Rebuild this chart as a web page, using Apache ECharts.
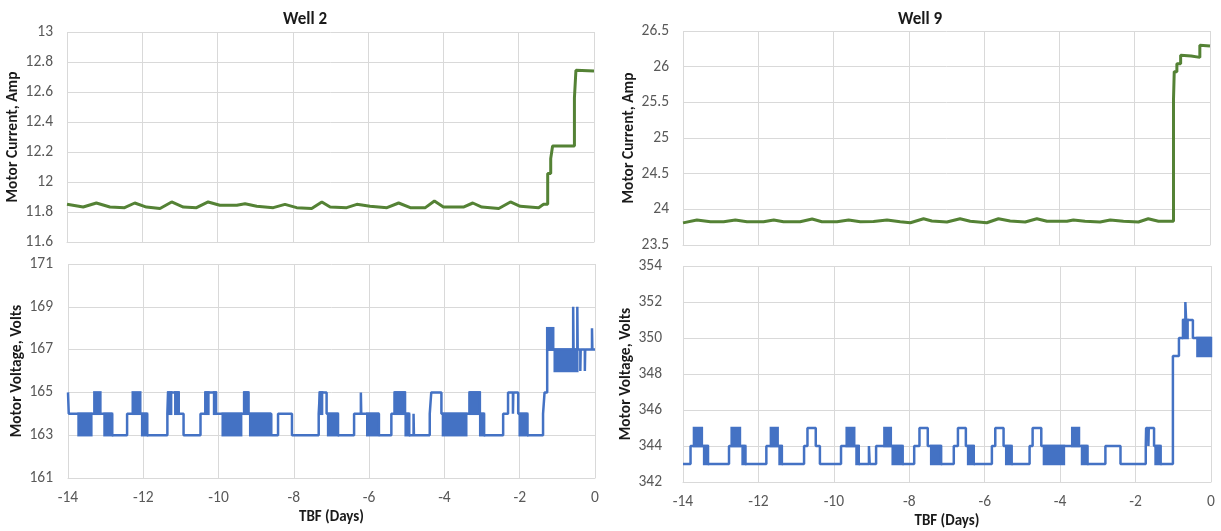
<!DOCTYPE html>
<html>
<head>
<meta charset="utf-8">
<title>Motor current and voltage before failure</title>
<script src="https://cdn.jsdelivr.net/npm/echarts@6/dist/echarts.min.js"></script>
<style>
  html, body { margin: 0; padding: 0; background: #ffffff; }
  #chart { width: 1221px; height: 531px; }
</style>
</head>
<body>
<div id="chart"></div>
<script>
// Time before failure, days (x) against motor current / voltage.
const dayTicks = [-14, -12, -10, -8, -6, -4, -2, 0];

// Well 2 motor current, Amp: [day, amp]
const well2Current = [
  [-14.0, 11.851], [-13.57, 11.833], [-13.22, 11.860], [-12.86, 11.833], [-12.47, 11.829],
  [-12.20, 11.860], [-11.89, 11.833], [-11.53, 11.823], [-11.22, 11.867], [-10.91, 11.833],
  [-10.56, 11.829], [-10.25, 11.867], [-9.94, 11.845], [-9.49, 11.845], [-9.27, 11.855],
  [-8.96, 11.838], [-8.52, 11.829], [-8.21, 11.851], [-7.90, 11.829], [-7.50, 11.823],
  [-7.23, 11.867], [-7.01, 11.833], [-6.57, 11.829], [-6.30, 11.851], [-5.95, 11.838],
  [-5.50, 11.829], [-5.19, 11.860], [-4.88, 11.829], [-4.48, 11.829], [-4.24, 11.873],
  [-4.00, 11.833], [-3.47, 11.833], [-3.22, 11.860], [-2.98, 11.833], [-2.53, 11.823],
  [-2.22, 11.867], [-1.96, 11.838], [-1.47, 11.829], [-1.34, 11.851], [-1.23, 11.851],
  [-1.23, 12.056], [-1.15, 12.056], [-1.15, 12.156], [-1.10, 12.156], [-1.10, 12.24],
  [-0.52, 12.24], [-0.52, 12.56], [-0.48, 12.56], [-0.48, 12.745], [0, 12.74]
];

// Well 2 motor voltage, Volts: level changes [day, volts]
const well2VoltSteps = [
  [-14, 165], [-13.98, 164], [-12.83, 163], [-12.43, 164],
  [-11.90, 163], [-11.36, 164], [-11.34, 165], [-11.06, 164], [-10.93, 163],
  [-10.48, 164], [-10.35, 165], [-10.07, 164], [-9.32, 165], [-9.21, 164],
  [-8.60, 163], [-8.42, 164], [-8.05, 163], [-7.34, 164], [-7.31, 165], [-7.13, 164],
  [-6.83, 163], [-6.40, 164], [-6.22, 165], [-6.21, 164],
  [-5.74, 163], [-5.41, 164], [-5.32, 165], [-5.05, 164],
  [-4.94, 163], [-4.82, 164], [-4.81, 163], [-4.39, 164], [-4.35, 165], [-4.08, 164],
  [-3.33, 165], [-3.06, 164], [-2.95, 163], [-2.44, 164], [-2.31, 165],
  [-2.18, 164], [-2.17, 165], [-2.04, 164], [-1.80, 163], [-1.38, 164], [-1.34, 165],
  [-1.27, 167], [-0.58, 169], [-0.57, 167], [-0.47, 169], [-0.46, 167],
  [-0.39, 166], [-0.38, 167], [-0.27, 166], [-0.26, 167], [-0.08, 168], [-0.07, 167], [0, 167]
];
// Well 2 voltage chatter between two levels: [startDay, endDay, low, high]
const well2VoltChatter = [
  [-13.72, -13.38, 163, 164], [-13.30, -13.14, 164, 165], [-13.03, -12.83, 163, 164],
  [-12.28, -12.08, 164, 165], [-12.03, -11.90, 163, 164], [-11.34, -11.26, 164, 165],
  [-11.15, -11.06, 164, 165], [-10.35, -10.27, 164, 165], [-10.12, -10.07, 164, 165],
  [-9.89, -9.40, 163, 164], [-9.32, -9.21, 164, 165], [-9.16, -8.64, 163, 164],
  [-7.31, -7.25, 164, 165], [-7.09, -6.83, 163, 164], [-6.05, -5.76, 163, 164],
  [-5.32, -5.05, 164, 165], [-5.03, -4.94, 163, 164], [-4.04, -3.42, 163, 164],
  [-3.33, -3.06, 164, 165], [-3.05, -2.95, 163, 164], [-2.00, -1.80, 163, 164],
  [-1.27, -1.11, 167, 168], [-1.07, -0.47, 166, 167]
];

// Well 9 motor current, Amp: [day, amp]
const well9Current = [
  [-14, 23.81], [-13.63, 23.85], [-13.27, 23.826], [-12.92, 23.826], [-12.61, 23.85],
  [-12.30, 23.826], [-11.86, 23.826], [-11.59, 23.85], [-11.33, 23.826], [-10.89, 23.826],
  [-10.57, 23.865], [-10.31, 23.826], [-9.91, 23.826], [-9.60, 23.85], [-9.29, 23.826],
  [-8.94, 23.83], [-8.58, 23.85], [-8.23, 23.826], [-7.96, 23.812], [-7.61, 23.868],
  [-7.39, 23.836], [-6.99, 23.822], [-6.64, 23.868], [-6.37, 23.832], [-5.93, 23.812],
  [-5.62, 23.868], [-5.31, 23.836], [-4.91, 23.822], [-4.60, 23.868], [-4.33, 23.832],
  [-3.80, 23.832], [-3.63, 23.85], [-3.32, 23.832], [-2.92, 23.822], [-2.65, 23.85],
  [-2.30, 23.832], [-1.90, 23.822], [-1.64, 23.868], [-1.37, 23.832], [-0.97, 23.832],
  [-0.97, 25.53], [-0.95, 25.53], [-0.95, 25.93], [-0.88, 25.93], [-0.88, 26.04],
  [-0.78, 26.04], [-0.78, 26.16], [-0.50, 26.15], [-0.48, 26.136], [-0.27, 26.13],
  [-0.27, 26.30], [0, 26.29]
];

// Well 9 motor voltage, Volts: level changes [day, volts]
const well9VoltSteps = [
  [-14, 343], [-13.80, 344], [-13.34, 343], [-12.78, 344], [-12.35, 343],
  [-11.79, 344], [-11.38, 343], [-10.79, 344], [-10.70, 345], [-10.48, 344], [-10.37, 343],
  [-9.81, 344], [-9.34, 343], [-9.07, 344], [-9.05, 343], [-8.88, 344], [-8.18, 343],
  [-7.87, 344], [-7.73, 345], [-7.51, 344], [-7.16, 343],
  [-6.82, 344], [-6.71, 345], [-6.50, 344], [-6.29, 343],
  [-5.81, 344], [-5.72, 345], [-5.50, 344], [-5.29, 343],
  [-4.81, 344], [-4.73, 345], [-4.50, 344], [-3.68, 344], [-3.28, 343],
  [-2.80, 344], [-2.40, 343], [-1.73, 344], [-1.72, 345], [-1.66, 344], [-1.65, 345],
  [-1.51, 344], [-1.34, 343], [-1.01, 349], [-0.85, 350], [-0.74, 351], [-0.68, 352],
  [-0.66, 351], [-0.48, 350], [0, 350]
];
// Well 9 voltage chatter between two levels: [startDay, endDay, low, high]
const well9VoltChatter = [
  [-13.71, -13.50, 344, 345], [-13.44, -13.34, 343, 344], [-12.71, -12.49, 344, 345],
  [-12.42, -12.35, 343, 344], [-11.67, -11.49, 344, 345], [-11.44, -11.38, 343, 344],
  [-9.66, -9.46, 344, 345], [-9.40, -9.34, 343, 344], [-8.66, -8.49, 344, 345],
  [-8.44, -8.18, 343, 344], [-7.42, -7.16, 343, 344], [-6.44, -6.29, 343, 344],
  [-5.43, -5.29, 343, 344], [-4.43, -3.90, 343, 344], [-3.68, -3.50, 344, 345],
  [-3.42, -3.28, 343, 344], [-1.47, -1.34, 343, 344], [-0.74, -0.62, 350, 351],
  [-0.36, 0, 349, 350]
];

const GREEN = '#548235';
const BLUE = '#4472C4';
const GRID_LINE = '#d9d9d9';
const LABEL = '#595959';
const FONT = 'Carlito, "Liberation Sans Narrow", "Liberation Sans", Arial, sans-serif';

// Solid block covering a span of rapid switching between two levels.
function chatterBlock(color, halfWidth) {
  return function (params, api) {
    const a = api.coord([api.value(0), api.value(3)]);
    const b = api.coord([api.value(1), api.value(2)]);
    return {
      type: 'rect',
      shape: {
        x: a[0] - halfWidth,
        y: a[1] - halfWidth,
        width: b[0] - a[0] + 2 * halfWidth,
        height: b[1] - a[1] + 2 * halfWidth
      },
      style: { fill: color }
    };
  };
}

function xAxisFor(gridIndex, showLabels) {
  return {
    type: 'value', gridIndex: gridIndex, min: dayTicks[0], max: dayTicks[dayTicks.length - 1], interval: 2,
    axisLine: { show: true, lineStyle: { color: GRID_LINE, width: 1 } },
    axisTick: { show: false },
    splitLine: { show: true, lineStyle: { color: GRID_LINE, width: 1 } },
    axisLabel: { show: showLabels, color: LABEL, fontSize: 15.5, fontFamily: FONT, margin: 12 },
    name: showLabels ? 'TBF (Days)' : '',
    nameLocation: 'middle', nameGap: 32,
    nameTextStyle: { color: '#1a1a1a', fontWeight: 'bold', fontSize: 15, fontFamily: FONT }
  };
}

function yAxisFor(gridIndex, min, max, interval, name, nameGap, labelMargin) {
  return {
    type: 'value', gridIndex: gridIndex, min: min, max: max, interval: interval,
    axisLine: { show: false },
    axisTick: { show: false },
    splitLine: { show: true, lineStyle: { color: GRID_LINE, width: 1 } },
    axisLabel: { color: LABEL, fontSize: 15.5, fontFamily: FONT, margin: labelMargin },
    name: name, nameLocation: 'middle', nameGap: nameGap, nameRotate: 90,
    nameTextStyle: { color: '#1a1a1a', fontWeight: 'bold', fontSize: 15.5, fontFamily: FONT }
  };
}

const chart = echarts.init(document.getElementById('chart'), null, { renderer: 'canvas' });

chart.setOption({
  animation: false,
  backgroundColor: '#ffffff',
  title: [
    { text: 'Well 2', left: 300, top: 6, textAlign: 'center',
      textStyle: { fontSize: 17, fontWeight: 'bold', color: '#1a1a1a', fontFamily: FONT } },
    { text: 'Well 9', left: 915, top: 6, textAlign: 'center',
      textStyle: { fontSize: 17, fontWeight: 'bold', color: '#1a1a1a', fontFamily: FONT } }
  ],
  grid: [
    { left: 67, top: 32, width: 527, height: 210, outerBoundsMode: 'none' },
    { left: 68, top: 264, width: 527, height: 214, outerBoundsMode: 'none' },
    { left: 683, top: 31, width: 527, height: 214, outerBoundsMode: 'none' },
    { left: 683, top: 266, width: 528, height: 216, outerBoundsMode: 'none' }
  ],
  xAxis: [xAxisFor(0, false), xAxisFor(1, true), xAxisFor(2, false), xAxisFor(3, true)],
  yAxis: [
    yAxisFor(0, 11.6, 13, 0.2, 'Motor Current, Amp', 45, 14),
    yAxisFor(1, 161, 171, 2, 'Motor Voltage, Volts', 41, 15),
    yAxisFor(2, 23.5, 26.5, 0.5, 'Motor Current, Amp', 46, 14),
    yAxisFor(3, 342, 354, 2, 'Motor Voltage, Volts', 41, 21)
  ],
  series: [
    { name: 'Well 2 current', type: 'line', xAxisIndex: 0, yAxisIndex: 0, data: well2Current,
      showSymbol: false, lineStyle: { color: GREEN, width: 3 }, itemStyle: { color: GREEN } },
    { name: 'Well 2 voltage chatter', type: 'custom', xAxisIndex: 1, yAxisIndex: 1, data: well2VoltChatter,
      encode: { x: [0, 1], y: [2, 3] }, renderItem: chatterBlock(BLUE, 1.25) },
    { name: 'Well 2 voltage', type: 'line', xAxisIndex: 1, yAxisIndex: 1, data: well2VoltSteps,
      step: 'end', showSymbol: false, lineStyle: { color: BLUE, width: 2.5 }, itemStyle: { color: BLUE } },
    { name: 'Well 9 current', type: 'line', xAxisIndex: 2, yAxisIndex: 2, data: well9Current,
      showSymbol: false, lineStyle: { color: GREEN, width: 3 }, itemStyle: { color: GREEN } },
    { name: 'Well 9 voltage chatter', type: 'custom', xAxisIndex: 3, yAxisIndex: 3, data: well9VoltChatter,
      encode: { x: [0, 1], y: [2, 3] }, renderItem: chatterBlock(BLUE, 1.25) },
    { name: 'Well 9 voltage', type: 'line', xAxisIndex: 3, yAxisIndex: 3, data: well9VoltSteps,
      step: 'end', showSymbol: false, lineStyle: { color: BLUE, width: 2.5 }, itemStyle: { color: BLUE } }
  ]
});
</script>
</body>
</html>
